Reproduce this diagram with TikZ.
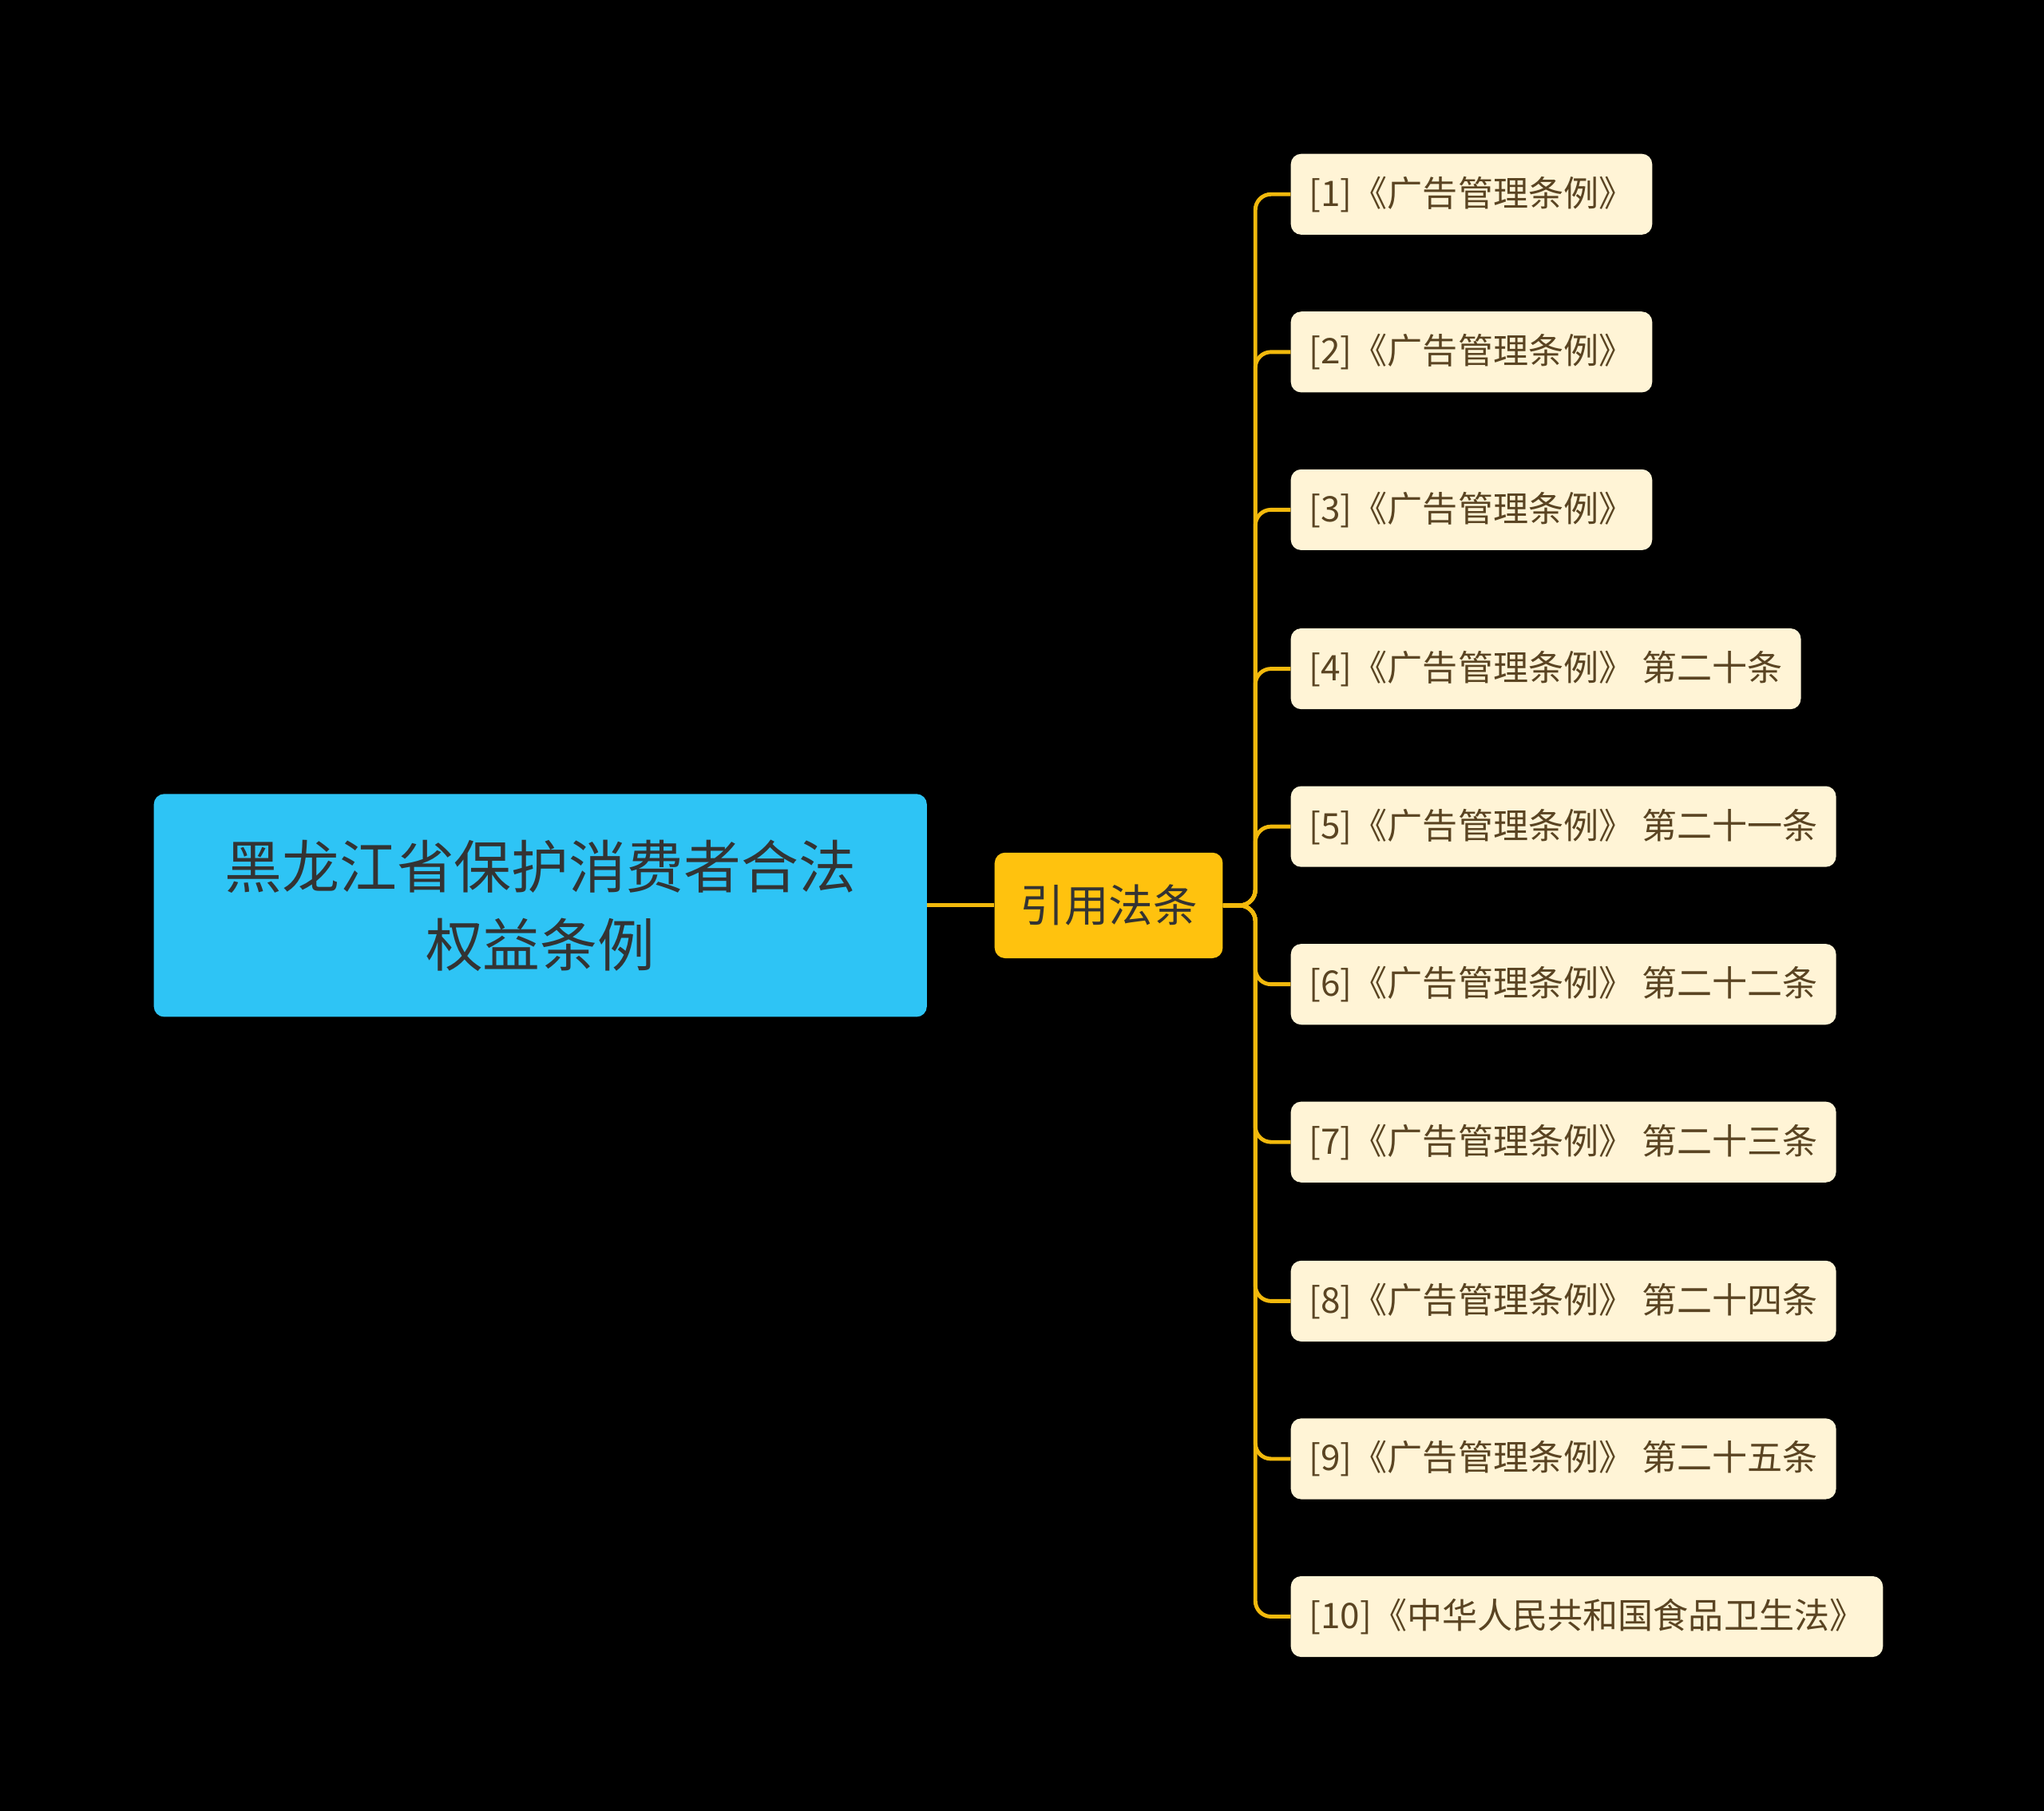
\documentclass[tikz,border=0pt]{standalone}
\usepackage{fontspec}
\setmainfont{Noto Sans CJK SC}
\begin{document}
\begin{tikzpicture}[x=1pt,y=-1pt,
  rootbox/.style={fill=rootc,rounded corners=8pt,minimum width=593pt,minimum height=171pt,align=center,text=txt,font=\fontsize{44}{60}\selectfont,inner sep=0pt},
  midbox/.style={fill=midc,rounded corners=8pt,minimum width=175pt,minimum height=81pt,text=txt,font=\fontsize{34}{40}\selectfont,inner sep=0pt},
  leafbox/.style={fill=leafc,rounded corners=8pt,minimum height=62pt,anchor=west,text=leaft,font=\fontsize{27}{32}\selectfont,inner xsep=14pt},
  conn/.style={draw=linec,line width=3pt,rounded corners=12pt}]
\definecolor{rootc}{HTML}{2EC4F5}
\definecolor{midc}{HTML}{FFC20E}
\definecolor{leafc}{HTML}{FFF4D6}
\definecolor{txt}{HTML}{333333}
\definecolor{leaft}{HTML}{5A4422}
\definecolor{linec}{HTML}{F2B90C}
\fill[black] (0,0) rectangle (1568,1389);
\useasboundingbox (0,0) rectangle (1568,1389);
\node[rootbox] (root) at (414.5,694.5) {黑龙江省保护消费者合法\\权益条例};
\node[midbox] (mid) at (850.5,694.5) {引用法条};
\draw[conn] (root.east) -- (mid.west);
\foreach \i/\y/\t in {1/149/{[1]《广告管理条例》},2/270/{[2]《广告管理条例》},3/391/{[3]《广告管理条例》},4/513/{[4]《广告管理条例》 第二十条},5/634/{[5]《广告管理条例》 第二十一条},6/755/{[6]《广告管理条例》 第二十二条},7/876/{[7]《广告管理条例》 第二十三条},8/998/{[8]《广告管理条例》 第二十四条},9/1119/{[9]《广告管理条例》 第二十五条},10/1240/{[10]《中华人民共和国食品卫生法》}}{
  \node[leafbox] (l\i) at (990,\y) {\t};
  \draw[conn] (mid.east) -- (963,694.5) |- (l\i.west);
}
\end{tikzpicture}
\end{document}
